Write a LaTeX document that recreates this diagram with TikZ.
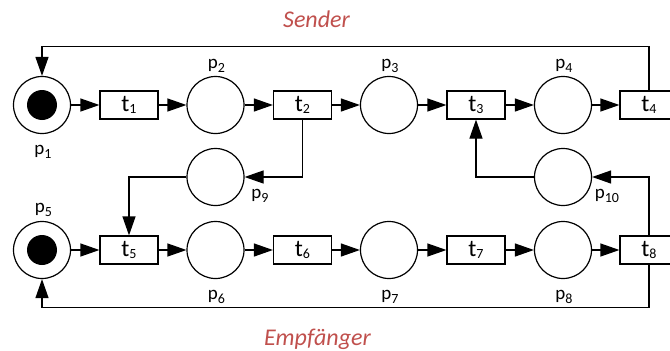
\documentclass[tikz,border=0pt]{standalone}
\usepackage{fontspec}
\setmainfont{Carlito}
\usetikzlibrary{arrows.meta}

\definecolor{netred}{RGB}{192,80,77}

% index as Visio-like subscript
\newcommand{\tsub}[1]{t\raisebox{-2pt}{\fontsize{14}{14}\selectfont #1}}
\newcommand{\psub}[1]{p\raisebox{-4pt}{\fontsize{14}{14}\selectfont #1}}

\tikzset{
	place/.style={circle, draw, line width=1.2pt, minimum size=57pt, inner sep=0pt},
	transition/.style={rectangle, draw, line width=1.2pt, minimum width=58pt, minimum height=28pt, inner sep=0pt, font=\fontsize{24}{24}\selectfont},
	tokendot/.style={circle, fill=black, minimum size=30pt, inner sep=0pt},
	flow/.style={line width=1.2pt, -{Triangle[length=19pt,width=13pt]}},
	plabel/.style={anchor=base, inner sep=0pt, font=\fontsize{19}{19}\selectfont},
	netname/.style={anchor=base, inner sep=0pt, text=netred, font=\fontsize{24}{24}\selectfont\itshape}
}

\begin{document}
\begin{tikzpicture}[x=1pt, y=-1pt]
			
			\useasboundingbox (0,0) rectangle (670,351);
			\clip (0,0) rectangle (670,351);
			
			% sender row
			\node[place] (p1) at (42,105) {};
			\node[tokendot] (k1) at (p1) {};
			\node[transition] (t1) at (129,105) {\tsub{1}};
			\node[place] (p2) at (215.5,105) {};
			\node[transition] (t2) at (302.5,105) {\tsub{2}};
			\node[place] (p3) at (389,105) {};
			\node[transition] (t3) at (476,105) {\tsub{3}};
			\node[place] (p4) at (563,105) {};
			\node[transition] (t4) at (649,105) {\tsub{4}};
			
			% receiver row
			\node[place] (p5) at (42,250) {};
			\node[tokendot] (k5) at (p5) {};
			\node[transition] (t5) at (129,250) {\tsub{5}};
			\node[place] (p6) at (215.5,250) {};
			\node[transition] (t6) at (302.5,250) {\tsub{6}};
			\node[place] (p7) at (389,250) {};
			\node[transition] (t7) at (476,250) {\tsub{7}};
			\node[place] (p8) at (563,250) {};
			\node[transition] (t8) at (649,250) {\tsub{8}};
			
			% channels
			\node[place] (p9) at (215.5,177) {};
			\node[place] (p10) at (563,177) {};
			
			% arcs along the rows
			\draw[flow] (p1) -- (t1);
			\draw[flow] (t1) -- (p2);
			\draw[flow] (p2) -- (t2);
			\draw[flow] (t2) -- (p3);
			\draw[flow] (p3) -- (t3);
			\draw[flow] (t3) -- (p4);
			\draw[flow] (p4) -- (t4);
			\draw[flow] (p5) -- (t5);
			\draw[flow] (t5) -- (p6);
			\draw[flow] (p6) -- (t6);
			\draw[flow] (t6) -- (p7);
			\draw[flow] (p7) -- (t7);
			\draw[flow] (t7) -- (p8);
			\draw[flow] (p8) -- (t8);
			
			% loops back to the start
			\draw[flow] (t4.north) -- ++(0,-44) -| (p1.north);
			\draw[flow] (t8.south) -- ++(0,43) -| (p5.south);
			
			% message and acknowledgement
			\draw[flow] (t2.south) |- (p9.east);
			\draw[flow] (p9.west) -| (t5.north);
			\draw[flow] (t8.north) |- (p10.east);
			\draw[flow] (p10.west) -| (t3.south);
			
			% place labels
			\node[plabel] (l1) at (43,154) {\psub{1}};
			\node[plabel] (l2) at (216.5,68) {\psub{2}};
			\node[plabel] (l3) at (390,68) {\psub{3}};
			\node[plabel] (l4) at (564,68) {\psub{4}};
			\node[plabel] (l5) at (43.5,212) {\psub{5}};
			\node[plabel] (l6) at (216.5,299) {\psub{6}};
			\node[plabel] (l7) at (390,299) {\psub{7}};
			\node[plabel] (l8) at (564,299) {\psub{8}};
			\node[plabel] (l9) at (260,198) {\psub{9}};
			\node[plabel] (l10) at (607,198) {\psub{10}};
			
			% net names
			\node[netname] (sender) at (316.5,27) {Sender};
			\node[netname] (receiver) at (317.5,345) {Empfänger};
			
		\end{tikzpicture}
\end{document}
